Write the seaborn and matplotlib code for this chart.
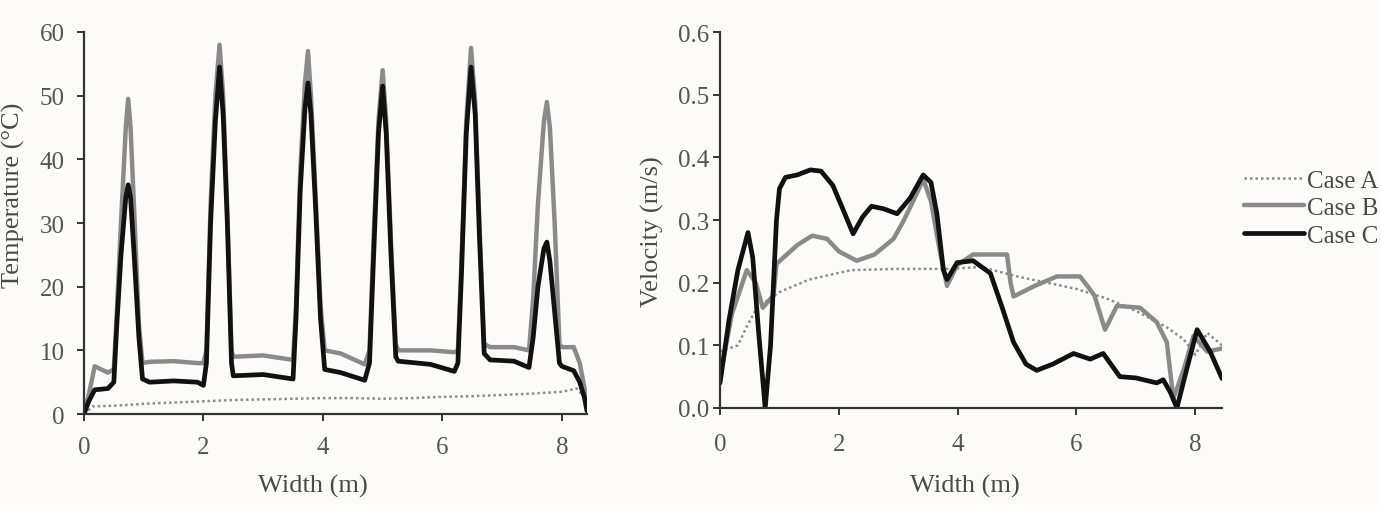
import matplotlib
matplotlib.use("Agg")
import matplotlib.pyplot as plt
import seaborn as sns
from matplotlib.lines import Line2D

# ---------------- temperature profiles (left panel) ----------------
temp_a_x = [0, 0.15, 0.5, 1.0, 1.5, 2.0, 2.5, 3.0, 3.5, 4.0, 4.5, 5.0, 5.5, 6.0,
            6.5, 7.0, 7.5, 8.0, 8.25, 8.35, 8.42]
temp_a = [0, 1.2, 1.3, 1.6, 1.8, 2.0, 2.2, 2.3, 2.4, 2.5, 2.5, 2.4, 2.5, 2.7,
          2.8, 3.0, 3.2, 3.5, 4.0, 3.0, 1.0]

temp_bc_x = [0, 0.08, 0.18, 0.4, 0.5, 0.55, 0.62, 0.7, 0.74, 0.78, 0.84, 0.92, 0.98,
             1.1, 1.5, 1.9, 2.0, 2.05, 2.12, 2.2, 2.27, 2.33, 2.4, 2.47, 2.5,
             3.0, 3.5, 3.55, 3.62, 3.7, 3.75, 3.8, 3.88, 3.96, 4.03,
             4.3, 4.7, 4.78, 4.85, 4.93, 5.0, 5.06, 5.14, 5.22, 5.26,
             5.8, 6.2, 6.26, 6.32, 6.4, 6.48, 6.55, 6.62, 6.7, 6.8,
             7.2, 7.45, 7.52, 7.6, 7.7, 7.75, 7.8, 7.88, 7.96, 8.0,
             8.2, 8.3, 8.38, 8.42]
temp_b = [0, 3, 7.5, 6.5, 7, 16, 30, 45, 49.5, 45, 32, 14, 8,
          8.2, 8.3, 8.0, 8, 10, 33, 50, 58, 50, 32, 10, 9,
          9.2, 8.5, 17, 38, 52, 57, 50, 34, 17, 10,
          9.5, 7.8, 10, 28, 46, 54, 46, 27, 11, 10,
          10, 9.7, 10, 24, 46, 57.5, 49, 30, 11, 10.5,
          10.5, 10, 18, 33, 46, 49, 45, 30, 11, 10.5,
          10.5, 8, 4, 1]
temp_c = [0, 2.0, 3.8, 4.0, 5.0, 14, 25, 34, 36, 34, 25, 12, 5.5,
          5.0, 5.2, 5.0, 4.5, 8, 30, 46, 54.5, 47, 30, 8, 6,
          6.2, 5.5, 15, 35, 48, 52, 47, 32, 15, 7,
          6.5, 5.3, 8, 25, 44, 51.5, 44, 25, 9, 8.3,
          7.8, 6.7, 8, 22, 44, 54.5, 47, 28, 9.5, 8.5,
          8.3, 7.3, 12, 20, 26, 27, 24, 16, 8, 7.5,
          6.8, 5, 2.5, 0.5]

# ---------------- velocity profiles (right panel) ----------------
vel_a_x = [0, 0.3, 0.45, 0.62, 1.0, 1.5, 2.2, 3.0, 3.8, 4.4, 5.0, 5.5, 6.0,
           6.5, 7.0, 7.5, 7.8, 8.0, 8.2, 8.45]
vel_a = [0.09, 0.10, 0.13, 0.16, 0.185, 0.205, 0.22, 0.222, 0.222, 0.225, 0.21,
         0.20, 0.19, 0.175, 0.155, 0.13, 0.11, 0.085, 0.12, 0.10]

vel_b_x = [0, 0.2, 0.45, 0.6, 0.72, 0.9, 0.95, 1.3, 1.55, 1.8, 2.0, 2.3, 2.6,
           2.92, 3.08, 3.3, 3.42, 3.55, 3.7, 3.82, 3.99, 4.26, 4.83, 4.89,
           4.94, 5.3, 5.67, 6.06, 6.3, 6.48, 6.68, 7.07, 7.35, 7.52, 7.63,
           7.8, 7.97, 8.2, 8.45]
vel_b = [0.05, 0.15, 0.22, 0.2, 0.16, 0.18, 0.23, 0.26, 0.275, 0.27, 0.25, 0.235, 0.245,
         0.27, 0.297, 0.34, 0.365, 0.33, 0.25, 0.195, 0.228, 0.245, 0.245, 0.2,
         0.178, 0.195, 0.21, 0.21, 0.18, 0.125, 0.163, 0.16, 0.137, 0.105, 0.015,
         0.06, 0.115, 0.09, 0.095]

vel_c_x = [0, 0.15, 0.3, 0.47, 0.55, 0.65, 0.76, 0.85, 0.95, 1.0, 1.1, 1.3, 1.52,
           1.7, 1.9, 2.1, 2.24, 2.4, 2.55, 2.75, 2.98, 3.2, 3.42, 3.55, 3.65,
           3.76, 3.82, 3.99, 4.26, 4.55, 4.75, 4.94, 5.15, 5.33, 5.6, 5.95,
           6.23, 6.45, 6.73, 7.0, 7.35, 7.46, 7.58, 7.69, 7.85, 8.03, 8.25, 8.45]
vel_c = [0.04, 0.14, 0.22, 0.28, 0.24, 0.12, 0.0, 0.1, 0.3, 0.35, 0.368, 0.372, 0.38,
         0.378, 0.355, 0.31, 0.278, 0.305, 0.322, 0.318, 0.31, 0.335, 0.372, 0.36, 0.31,
         0.22, 0.205, 0.232, 0.235, 0.215, 0.16, 0.105, 0.07, 0.06, 0.07, 0.087,
         0.078, 0.087, 0.05, 0.048, 0.04, 0.045, 0.025, 0.0, 0.06, 0.125, 0.09, 0.047]

case_labels = ["Case A", "Case B", "Case C"]

# ---------------- style ----------------
sns.set_theme(style="ticks")
plt.rcParams['font.family'] = ['Liberation Serif', 'DejaVu Serif']
ink = "#4a4a4a"
paper = "#fcfbf7"
plt.rcParams.update({
    "text.color": ink, "axes.labelcolor": ink,
    "xtick.color": "#333333", "ytick.color": "#333333",
    "xtick.labelcolor": "#555555", "ytick.labelcolor": "#555555",
    "axes.edgecolor": "#333333",
})

fig = plt.figure(figsize=(13.81, 5.06), dpi=100, facecolor=paper)
ax1 = fig.add_axes([0.0608, 0.1798, 0.3642, 0.755])
ax2 = fig.add_axes([0.5214, 0.1917, 0.3635, 0.743])

styles = {
    "Case A": dict(color="#8c8c8c", lw=1.8, ls=(0, (1, 1.2))),
    "Case B": dict(color="#8a8a8a", lw=3.2, ls="-"),
    "Case C": dict(color="#111111", lw=3.4, ls="-"),
}

def draw(ax, x, y, case):
    st = styles[case]
    sns.lineplot(x=x, y=y, ax=ax, color=st["color"], linewidth=st["lw"],
                 linestyle=st["ls"], estimator=None, sort=False, legend=False)

draw(ax1, temp_a_x, temp_a, "Case A")
draw(ax1, temp_bc_x, temp_b, "Case B")
draw(ax1, temp_bc_x, temp_c, "Case C")

draw(ax2, vel_a_x, vel_a, "Case A")
draw(ax2, vel_b_x, vel_b, "Case B")
draw(ax2, vel_c_x, vel_c, "Case C")

for ax in (ax1, ax2):
    ax.set_facecolor(paper)
    sns.despine(ax=ax)
    ax.spines["left"].set_linewidth(1.6)
    ax.spines["bottom"].set_linewidth(1.6)
    ax.set_xticks([0, 2, 4, 6, 8])
    ax.tick_params(axis="both", labelsize=18, length=5, width=1.4, direction="out")

ax1.set_xlim(0, 8.42)
ax1.set_ylim(0, 60)
ax1.set_yticks([0, 10, 20, 30, 40, 50, 60])
ax1.tick_params(axis="x", pad=11)
ax1.tick_params(axis="y", pad=9)
ax1.set_xlabel("Width (m)", fontsize=19)
ax1.set_ylabel("Temperature (°C)", fontsize=19)
ax1.xaxis.set_label_coords(0.455, -0.158)
ax1.yaxis.set_label_coords(-0.117, 0.575)

ax2.set_xlim(0, 8.45)
ax2.set_ylim(0, 0.6)
ax2.set_yticks([0.0, 0.1, 0.2, 0.3, 0.4, 0.5, 0.6])
ax2.set_yticklabels(["0.0", "0.1", "0.2", "0.3", "0.4", "0.5", "0.6"])
ax2.tick_params(axis="x", pad=13)
ax2.tick_params(axis="y", pad=3)
ax2.set_xlabel("Width (m)", fontsize=19)
ax2.set_ylabel("Velocity (m/s)", fontsize=19)
ax2.xaxis.set_label_coords(0.488, -0.176)
ax2.yaxis.set_label_coords(-0.112, 0.473)

handles = [Line2D([], [], color=styles[c]["color"], linewidth=styles[c]["lw"],
                  linestyle=styles[c]["ls"]) for c in case_labels]
fig.legend(handles, case_labels, loc="upper left", bbox_to_anchor=(0.901, 0.664),
           frameon=False, fontsize=18, handlelength=2.4, handletextpad=0.1,
           labelspacing=0.2, borderpad=0, borderaxespad=0)

fig.savefig("out.png", dpi=100, facecolor=paper)
